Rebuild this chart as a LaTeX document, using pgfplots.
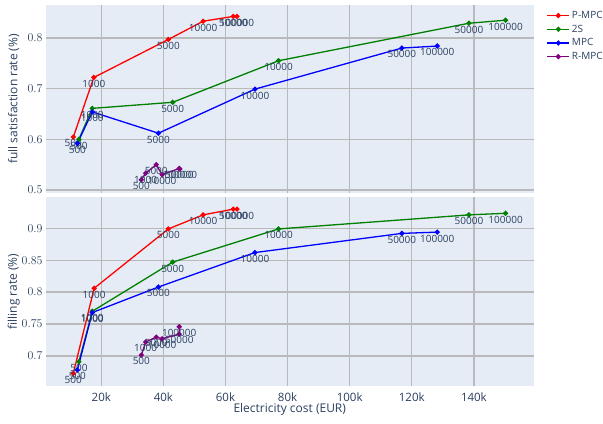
\documentclass[border=0pt]{standalone}
\usepackage{pgfplots}
\pgfplotsset{compat=1.18}
\usepackage{fontspec}
\setmainfont{Open Sans}
\definecolor{txt}{HTML}{2A3F5F}
\definecolor{bgc}{HTML}{E5ECF6}
\definecolor{grd}{RGB}{185,185,185}
\definecolor{cgreen}{HTML}{008000}
\definecolor{cpurple}{HTML}{800080}
\newcommand{\fticks}{\fontsize{11.5bp}{13bp}\selectfont}
\newcommand{\ftitle}{\fontsize{12bp}{14bp}\selectfont}
\newcommand{\fpts}{\fontsize{10bp}{11bp}\selectfont}

% full satisfaction rate
\pgfplotstableread{
x y lab
11.0 0.6045 500
17.6 0.722 1000
41.6 0.797 5000
52.8 0.833 10000
62.5 0.8425 50000
63.7 0.8425 100000
}\fsPMPC
\pgfplotstableread{
x y lab
12.8 0.600 500
17.1 0.661 1000
43.0 0.673 5000
77.1 0.755 10000
138.4 0.829 50000
150.2 0.835 100000
}\fsTwoS
\pgfplotstableread{
x y lab
12.3 0.592 500
17.1 0.654 1000
38.4 0.612 5000
69.5 0.699 10000
116.8 0.780 50000
128.2 0.784 100000
}\fsMPC
\pgfplotstableread{
x y lab
32.9 0.520 500
34.3 0.533 1000
37.7 0.550 5000
39.6 0.530 10000
45.1 0.5425 50000
45.3 0.5415 100000
}\fsRMPC

% filling rate
\pgfplotstableread{
x y lab
11.0 0.6727 500
17.7 0.806 1000
41.6 0.899 5000
52.8 0.921 10000
62.5 0.930 50000
63.7 0.930 100000
}\frPMPC
\pgfplotstableread{
x y lab
12.8 0.691 500
17.1 0.770 1000
43.0 0.847 5000
77.1 0.899 10000
138.4 0.921 50000
150.2 0.9235 100000
}\frTwoS
\pgfplotstableread{
x y lab
12.3 0.678 500
17.1 0.768 1000
38.4 0.808 5000
69.5 0.862 10000
116.8 0.892 50000
128.2 0.894 100000
}\frMPC
\pgfplotstableread{
x y lab
32.9 0.7014 500
34.3 0.7218 1000
37.7 0.7296 5000
39.6 0.727 10000
45.1 0.7343 50000
45.1 0.7458 100000
}\frRMPC

\pgfplotsset{
  panel/.style={
    scale only axis, width=487.5bp,
    xmin=2.2, xmax=159.2,
    axis background/.style={fill=bgc},
    axis line style={draw=none},
    major tick length=0pt,
    grid=major, grid style={grd, line width=1.4bp},
    xtick={20,40,...,140},
    clip=false,
    xticklabel style={font=\fticks, text=txt, yshift=-3bp},
    yticklabel style={font=\fticks, text=txt, /pgf/number format/fixed, /pgf/number format/precision=2},
    ylabel style={font=\ftitle, text=txt, at={(axis description cs:-0.066,0.5)}, anchor=center},
    xlabel style={font=\ftitle, text=txt, at={(axis description cs:0.5,-0.125)}, anchor=center},
    every node near coord/.append style={anchor=north, inner sep=1pt, yshift=-1bp,
      font=\fpts, text=txt},
  },
  ser/.style={#1, line width=1.3bp, mark=*, mark size=1.9bp, mark options={solid, fill=#1, draw=#1},
    nodes near coords, point meta=explicit symbolic},
}

\begin{document}
\begin{tikzpicture}
\useasboundingbox (0,0) rectangle (603bp,424bp);

\begin{axis}[panel, at={(46bp,231bp)}, height=188bp,
  ymin=0.494, ymax=0.865, ytick={0.5,0.6,0.7,0.8},
  xticklabels={},
  ylabel={full satisfaction rate (\%)},
  legend style={at={(1,1)}, xshift=10bp, yshift=-2bp, anchor=north west, draw=none, fill=none,
    font=\fontsize{10bp}{12bp}\selectfont, text=txt, row sep=1bp},
  legend cell align=left,
  legend image code/.code={\draw[mark repeat=2, mark phase=2] plot coordinates {(0bp,0bp) (11bp,0bp) (22bp,0bp)};},
]
\addplot[ser=red] table[x=x, y=y, meta=lab] {\fsPMPC};
\addlegendentry{P-MPC}
\addplot[ser=cgreen] table[x=x, y=y, meta=lab] {\fsTwoS};
\addlegendentry{2S}
\addplot[ser=blue] table[x=x, y=y, meta=lab] {\fsMPC};
\addlegendentry{MPC}
\addplot[ser=cpurple] table[x=x, y=y, meta=lab] {\fsRMPC};
\addlegendentry{R-MPC}
\end{axis}

\begin{axis}[panel, at={(46bp,38bp)}, height=189bp,
  ymin=0.653, ymax=0.949, ytick={0.7,0.75,0.8,0.85,0.9,0.95},
  xticklabels={20k,40k,60k,80k,100k,120k,140k},
  ylabel={filling rate (\%)},
  xlabel={Electricity cost (EUR)},
]
\addplot[ser=red] table[x=x, y=y, meta=lab] {\frPMPC};
\addplot[ser=cgreen] table[x=x, y=y, meta=lab] {\frTwoS};
\addplot[ser=blue] table[x=x, y=y, meta=lab] {\frMPC};
\addplot[ser=cpurple] table[x=x, y=y, meta=lab] {\frRMPC};
\end{axis}
\end{tikzpicture}
\end{document}
